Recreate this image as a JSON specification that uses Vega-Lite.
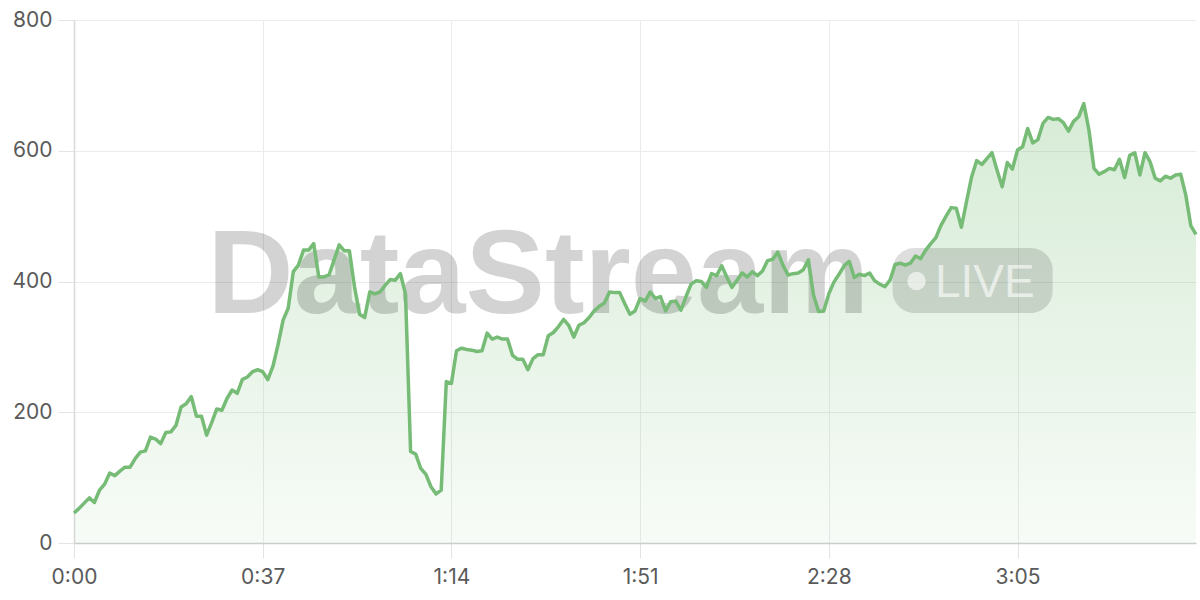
{
  "$schema": "https://vega.github.io/schema/vega-lite/v6.json",
  "width": 1122,
  "height": 523,
  "autosize": {"type": "none"},
  "padding": {"left": 74, "top": 20, "right": 4, "bottom": 57},
  "background": "#ffffff",
  "config": {
    "view": {"stroke": null},
    "axis": {
      "labelFont": "Inter",
      "labelFontSize": 21,
      "labelColor": "#5a5a5a",
      "gridColor": "#ebebeb",
      "gridWidth": 1,
      "tickColor": "#e3e3e3",
      "title": null
    }
  },
  "datasets": {
    "series": [
      {"t":0,"v":46},{"t":1,"v":53},{"t":2,"v":61},{"t":3,"v":69},{"t":4,"v":62},{"t":5,"v":81},{"t":6,"v":90},{"t":7,"v":107},{"t":8,"v":103},{"t":9,"v":110},
      {"t":10,"v":116},{"t":11,"v":116},{"t":12,"v":129},{"t":13,"v":139},{"t":14,"v":141},{"t":15,"v":162},{"t":16,"v":159},{"t":17,"v":152},{"t":18,"v":169},{"t":19,"v":170},
      {"t":20,"v":180},{"t":21,"v":208},{"t":22,"v":213},{"t":23,"v":224},{"t":24,"v":194},{"t":25,"v":194},{"t":26,"v":165},{"t":27,"v":184},{"t":28,"v":205},{"t":29,"v":203},
      {"t":30,"v":221},{"t":31,"v":234},{"t":32,"v":229},{"t":33,"v":250},{"t":34,"v":254},{"t":35,"v":262},{"t":36,"v":265},{"t":37,"v":262},{"t":38,"v":250},{"t":39,"v":270},
      {"t":40,"v":303},{"t":41,"v":341},{"t":42,"v":359},{"t":43,"v":415},{"t":44,"v":425},{"t":45,"v":448},{"t":46,"v":448},{"t":47,"v":458},{"t":48,"v":407},{"t":49,"v":407},
      {"t":50,"v":410},{"t":51,"v":433},{"t":52,"v":456},{"t":53,"v":447},{"t":54,"v":447},{"t":55,"v":392},{"t":56,"v":350},{"t":57,"v":345},{"t":58,"v":384},{"t":59,"v":381},
      {"t":60,"v":384},{"t":61,"v":394},{"t":62,"v":403},{"t":63,"v":402},{"t":64,"v":412},{"t":65,"v":381},{"t":66,"v":140},{"t":67,"v":136},{"t":68,"v":114},{"t":69,"v":105},
      {"t":70,"v":86},{"t":71,"v":75},{"t":72,"v":81},{"t":73,"v":247},{"t":74,"v":244},{"t":75,"v":294},{"t":76,"v":298},{"t":77,"v":296},{"t":78,"v":295},{"t":79,"v":293},
      {"t":80,"v":294},{"t":81,"v":321},{"t":82,"v":312},{"t":83,"v":315},{"t":84,"v":312},{"t":85,"v":312},{"t":86,"v":287},{"t":87,"v":281},{"t":88,"v":281},{"t":89,"v":265},
      {"t":90,"v":282},{"t":91,"v":288},{"t":92,"v":288},{"t":93,"v":317},{"t":94,"v":322},{"t":95,"v":331},{"t":96,"v":342},{"t":97,"v":333},{"t":98,"v":315},{"t":99,"v":333},
      {"t":100,"v":337},{"t":101,"v":345},{"t":102,"v":355},{"t":103,"v":362},{"t":104,"v":367},{"t":105,"v":384},{"t":106,"v":383},{"t":107,"v":383},{"t":108,"v":366},{"t":109,"v":350},
      {"t":110,"v":355},{"t":111,"v":374},{"t":112,"v":370},{"t":113,"v":384},{"t":114,"v":374},{"t":115,"v":377},{"t":116,"v":355},{"t":117,"v":369},{"t":118,"v":370},{"t":119,"v":356},
      {"t":120,"v":377},{"t":121,"v":396},{"t":122,"v":401},{"t":123,"v":400},{"t":124,"v":391},{"t":125,"v":412},{"t":126,"v":409},{"t":127,"v":424},{"t":128,"v":407},{"t":129,"v":391},
      {"t":130,"v":402},{"t":131,"v":413},{"t":132,"v":407},{"t":133,"v":415},{"t":134,"v":409},{"t":135,"v":416},{"t":136,"v":432},{"t":137,"v":434},{"t":138,"v":445},{"t":139,"v":425},
      {"t":140,"v":410},{"t":141,"v":412},{"t":142,"v":413},{"t":143,"v":418},{"t":144,"v":433},{"t":145,"v":379},{"t":146,"v":354},{"t":147,"v":355},{"t":148,"v":381},{"t":149,"v":399},
      {"t":150,"v":411},{"t":151,"v":424},{"t":152,"v":431},{"t":153,"v":406},{"t":154,"v":411},{"t":155,"v":409},{"t":156,"v":413},{"t":157,"v":401},{"t":158,"v":396},{"t":159,"v":392},
      {"t":160,"v":402},{"t":161,"v":426},{"t":162,"v":428},{"t":163,"v":425},{"t":164,"v":428},{"t":165,"v":439},{"t":166,"v":435},{"t":167,"v":448},{"t":168,"v":458},{"t":169,"v":467},
      {"t":170,"v":486},{"t":171,"v":500},{"t":172,"v":513},{"t":173,"v":512},{"t":174,"v":483},{"t":175,"v":522},{"t":176,"v":560},{"t":177,"v":585},{"t":178,"v":579},{"t":179,"v":588},
      {"t":180,"v":597},{"t":181,"v":570},{"t":182,"v":545},{"t":183,"v":582},{"t":184,"v":572},{"t":185,"v":601},{"t":186,"v":606},{"t":187,"v":634},{"t":188,"v":612},{"t":189,"v":617},
      {"t":190,"v":642},{"t":191,"v":651},{"t":192,"v":648},{"t":193,"v":649},{"t":194,"v":643},{"t":195,"v":630},{"t":196,"v":645},{"t":197,"v":652},{"t":198,"v":672},{"t":199,"v":632},
      {"t":200,"v":573},{"t":201,"v":564},{"t":202,"v":568},{"t":203,"v":573},{"t":204,"v":571},{"t":205,"v":587},{"t":206,"v":559},{"t":207,"v":593},{"t":208,"v":597},{"t":209,"v":563},
      {"t":210,"v":597},{"t":211,"v":583},{"t":212,"v":558},{"t":213,"v":554},{"t":214,"v":561},{"t":215,"v":558},{"t":216,"v":563},{"t":217,"v":564},{"t":218,"v":532},{"t":219,"v":485},
      {"t":220,"v":472}
    ]
  },
  "layer": [
    {
      "data": {"name": "series"},
      "mark": {
        "type": "area",
        "interpolate": "linear",
        "fill": {
          "gradient": "linear",
          "x1": 0, "y1": 0, "x2": 0, "y2": 1,
          "stops": [
            {"offset": 0, "color": "rgba(120,190,120,0.30)"},
            {"offset": 1, "color": "rgba(120,190,120,0.06)"}
          ]
        }
      },
      "encoding": {
        "x": {
          "field": "t",
          "type": "quantitative",
          "scale": {"domain": [0, 220], "nice": false, "zero": false},
          "axis": {
            "values": [0, 37, 74, 111, 148, 185],
            "labelExpr": "floor(datum.value / 60) + ':' + (datum.value % 60 < 10 ? '0' : '') + (datum.value % 60)",
            "grid": true,
            "domainColor": "#cccccc",
            "domainWidth": 1.5,
            "tickSize": 15,
            "labelPadding": 8,
            "labelFlush": false
          }
        },
        "y": {
          "field": "v",
          "type": "quantitative",
          "scale": {"domain": [0, 800], "nice": false},
          "axis": {
            "values": [0, 200, 400, 600, 800],
            "grid": true,
            "domain": true,
            "domainColor": "#d9d9d9",
            "domainWidth": 1.5,
            "tickSize": 16,
            "labelPadding": 6
          }
        }
      }
    },
    {
      "data": {"values": [{"name": "DataStream"}]},
      "mark": {"type": "text", "align": "left", "baseline": "alphabetic", "font": "Liberation Sans", "fontWeight": "bold", "fontSize": 119, "fill": "#000000", "opacity": 0.17},
      "encoding": {
        "x": {"datum": 26.2, "type": "quantitative"},
        "y": {"datum": 351.8, "type": "quantitative"},
        "text": {"field": "name"}
      }
    },
    {
      "data": {"values": [{"badge": "LIVE"}]},
      "mark": {"type": "rect", "cornerRadius": 22, "fill": "#000000", "opacity": 0.13},
      "encoding": {
        "x": {"datum": 160.5, "type": "quantitative"},
        "x2": {"datum": 191.9},
        "y": {"datum": 451.2, "type": "quantitative"},
        "y2": {"datum": 351.8}
      }
    },
    {
      "data": {"values": [{"badge": "LIVE"}]},
      "mark": {"type": "point", "shape": "circle", "filled": true, "size": 340, "fill": "#ffffff", "opacity": 0.6, "strokeWidth": 0},
      "encoding": {
        "x": {"datum": 165.2, "type": "quantitative"},
        "y": {"datum": 400.8, "type": "quantitative"}
      }
    },
    {
      "data": {"values": [{"badge": "LIVE"}]},
      "mark": {"type": "text", "align": "left", "baseline": "alphabetic", "font": "Liberation Sans", "fontSize": 46, "fill": "#ffffff", "opacity": 0.6},
      "encoding": {
        "x": {"datum": 168.8, "type": "quantitative"},
        "y": {"datum": 376.3, "type": "quantitative"},
        "text": {"field": "badge"}
      }
    },
    {
      "data": {"name": "series"},
      "mark": {"type": "line", "stroke": "#76bb76", "strokeWidth": 3.5, "strokeJoin": "round", "interpolate": "linear"},
      "encoding": {
        "x": {"field": "t", "type": "quantitative"},
        "y": {"field": "v", "type": "quantitative"}
      }
    }
  ]
}
